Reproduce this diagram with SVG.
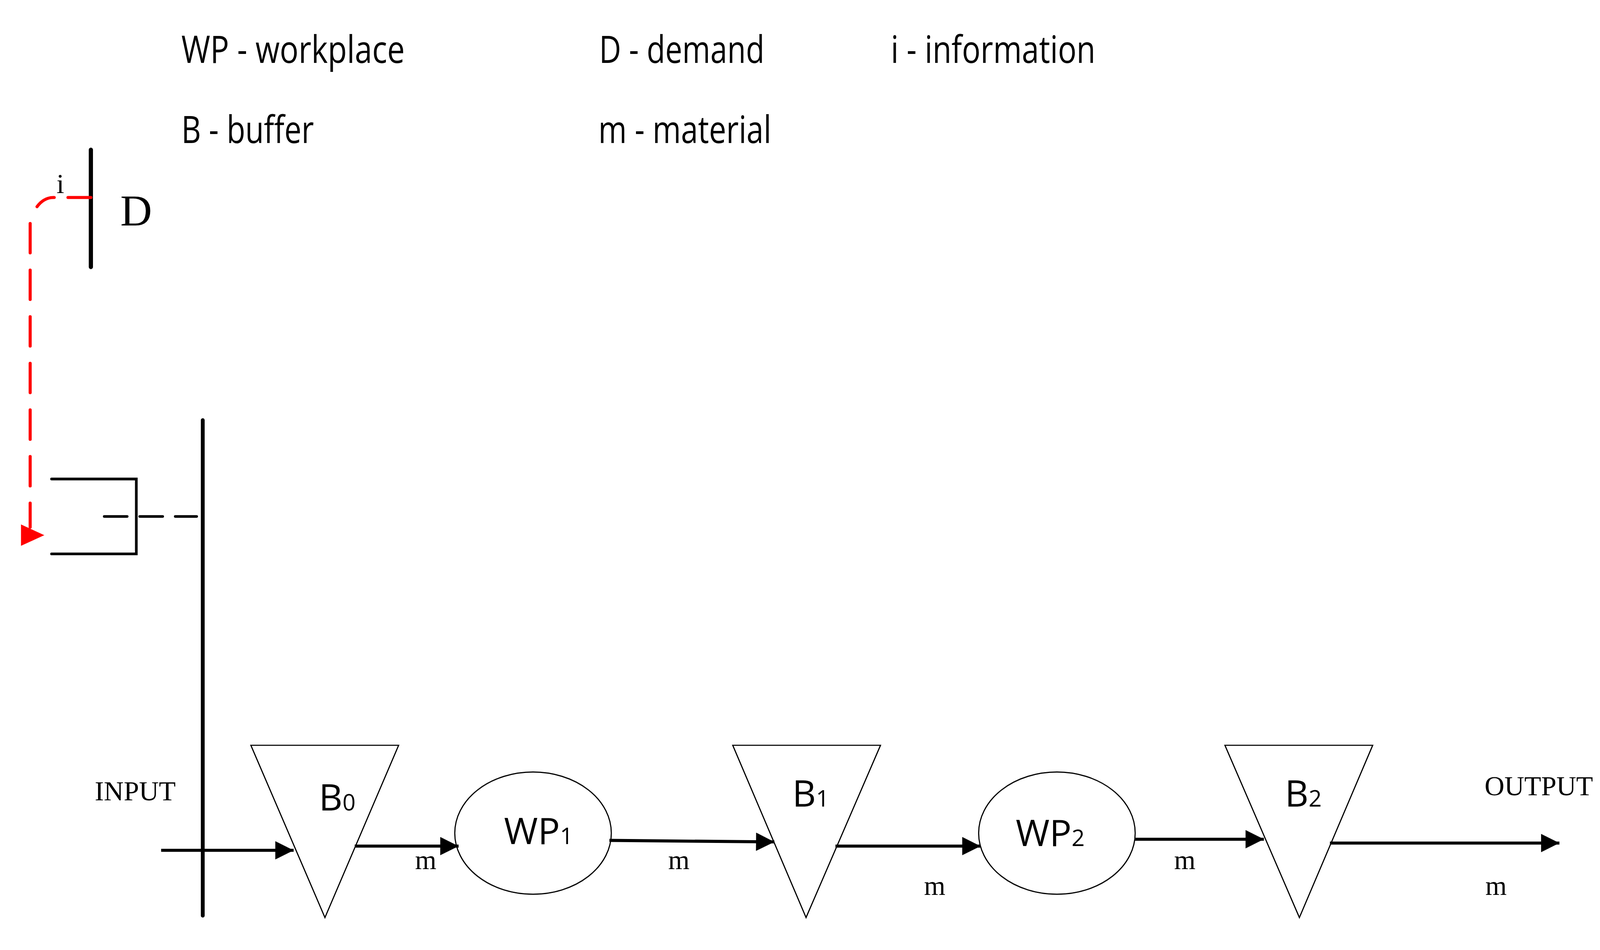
<svg xmlns="http://www.w3.org/2000/svg" width="4163" height="2431" viewBox="0 0 4163 2431">
<style>
.leg{font-family:"Open Sans","Liberation Sans",sans-serif;font-size:100px;fill:#000}
.ser{font-family:"Liberation Serif",serif;fill:#000}
.lbl{font-family:"Open Sans","Liberation Sans",sans-serif;font-size:96px;fill:#000}
.shape{fill:#fff;stroke:#000;stroke-width:3}
.flow{stroke:#000;stroke-width:8;fill:none;marker-end:url(#ah)}
</style>
<defs>
<marker id="ah" viewBox="0 0 10 10" refX="10" refY="5" markerUnits="userSpaceOnUse" markerWidth="62" markerHeight="48" orient="auto"><path d="M0,0L10,5L0,10z" fill="#000"/></marker>
</defs>
<rect width="4163" height="2431" fill="#fff"/>
<g transform="scale(0.9775)">
<g id="legend">
<text class="leg" x="475" y="165" textLength="585" lengthAdjust="spacingAndGlyphs">WP - workplace</text>
<text class="leg" x="1569" y="165" textLength="433" lengthAdjust="spacingAndGlyphs">D - demand</text>
<text class="leg" x="2333" y="165" textLength="536" lengthAdjust="spacingAndGlyphs">i - information</text>
<text class="leg" x="475" y="374" textLength="347" lengthAdjust="spacingAndGlyphs">B - buffer</text>
<text class="leg" x="1567" y="374" textLength="453" lengthAdjust="spacingAndGlyphs">m - material</text>
</g>
<g id="demand">
<line x1="238" y1="392" x2="238" y2="699" stroke="#000" stroke-width="11" stroke-linecap="round"/>
<text class="ser" x="315" y="590" font-size="115">D</text>
</g>
<g id="control">
<path d="M135,1254H357V1450H135" fill="none" stroke="#000" stroke-width="7" stroke-linecap="round"/>
<line x1="273" y1="1352" x2="515" y2="1352" stroke="#000" stroke-width="7" stroke-linecap="round" stroke-dasharray="60 33"/>
<line x1="531" y1="1100" x2="531" y2="2397" stroke="#000" stroke-width="10" stroke-linecap="round"/>
</g>
<g id="B0"><polygon class="shape" points="657,1951 1044,1951 851,2402"/><text class="lbl" x="835" y="2122">B<tspan font-size="60">0</tspan></text></g>
<g id="B1"><polygon class="shape" points="1919,1951 2306,1951 2111,2402"/><text class="lbl" x="2075" y="2112">B<tspan font-size="60">1</tspan></text></g>
<g id="B2"><polygon class="shape" points="3208,1951 3595,1951 3403,2402"/><text class="lbl" x="3365" y="2112">B<tspan font-size="60">2</tspan></text></g>
<g id="WP1"><ellipse class="shape" cx="1396" cy="2181" rx="205" ry="160"/><text class="lbl" x="1320" y="2210">WP<tspan font-size="60">1</tspan></text></g>
<g id="WP2"><ellipse class="shape" cx="2768" cy="2181" rx="205" ry="160"/><text class="lbl" x="2660" y="2215">WP<tspan font-size="60">2</tspan></text></g>
<g id="connectors">
<path d="M238,517H140Q115,517 97,541" fill="none" stroke="#f00" stroke-width="8" stroke-linecap="round" stroke-dasharray="60 36"/>
<line x1="79" y1="585" x2="79" y2="1380" stroke="#f00" stroke-width="8" stroke-linecap="round" stroke-dasharray="77 45"/>
<polygon points="55,1373 116,1401 55,1429" fill="#f00"/>
<line class="flow" x1="422" y1="2226" x2="769" y2="2226"/>
<line class="flow" x1="929" y1="2215" x2="1201" y2="2215"/>
<line class="flow" x1="1596" y1="2200" x2="2028" y2="2204"/>
<line class="flow" x1="2188" y1="2215" x2="2568" y2="2215"/>
<line class="flow" x1="2971" y1="2197" x2="3310" y2="2197"/>
<line class="flow" x1="3483" y1="2207" x2="4084" y2="2207"/>
</g>
<g id="labels">
<text class="ser" x="148" y="505" font-size="72">i</text>
<text class="ser" x="248" y="2095" font-size="72">INPUT</text>
<text class="ser" x="3888" y="2082" font-size="72">OUTPUT</text>
<text class="ser" x="1087" y="2275" font-size="72">m</text>
<text class="ser" x="1750" y="2275" font-size="72">m</text>
<text class="ser" x="2420" y="2343" font-size="72">m</text>
<text class="ser" x="3075" y="2275" font-size="72">m</text>
<text class="ser" x="3890" y="2343" font-size="72">m</text>
</g>
</g>
</svg>
